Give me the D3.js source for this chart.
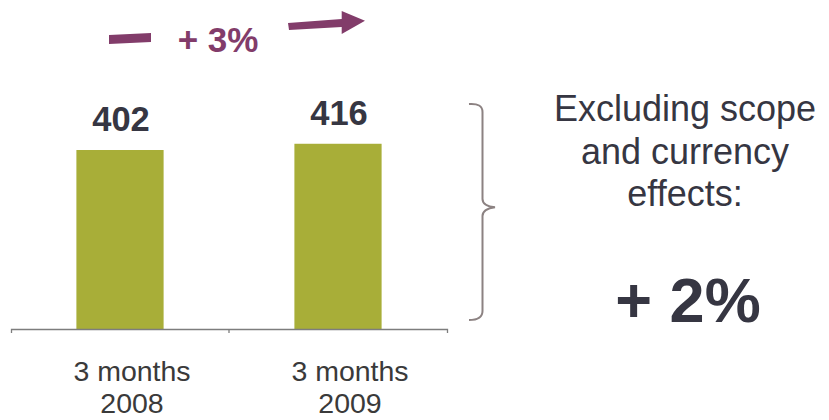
<!DOCTYPE html>
<html><head><meta charset="utf-8">
<script src="https://cdn.jsdelivr.net/npm/d3@7"></script>
<style>
html,body{margin:0;padding:0;background:#fff;}
svg{display:block;font-family:"Liberation Sans",Arial,sans-serif;}
</style></head>
<body><svg id="c" width="829" height="420"></svg>
<script>
const categories = [["3 months", "2008"], ["3 months", "2009"]];
const values = [402, 416];
const valueLabels = ["402", "416"];
const growthLabel = "+ 3%";
const sideTextLines = ["Excluding scope", "and currency", "effects:"];
const sideValue = "+ 2%";

const svg = d3.select("#c");
const base = 329;
const x = d3.scaleBand().domain(d3.range(categories.length)).range([11, 447])
  .paddingInner(0.6).paddingOuter(0.3);
const y = d3.scaleLinear().domain([0, 450]).range([base, base - 450 * (179 / 402)]);

const dark = "#363642", purple = "#823c6a", green = "#a8ae38";

// bars
svg.selectAll("rect.bar").data(values).join("rect").attr("class", "bar")
  .attr("x", (d, i) => x(i)).attr("width", x.bandwidth())
  .attr("y", d => y(d)).attr("height", d => y(0) - y(d)).attr("fill", green);

// value labels
svg.selectAll("text.val").data(values).join("text").attr("class", "val")
  .attr("x", (d, i) => x(i) + x.bandwidth() / 2 + 1).attr("y", d => y(d) - 19)
  .attr("text-anchor", "middle").attr("font-size", 34.5).attr("font-weight", "bold")
  .attr("fill", dark).text((d, i) => valueLabels[i]);

// axis
const axis = d3.axisBottom(x).tickSizeInner(0).tickSizeOuter(4).tickFormat("");
const gAx = svg.append("g").attr("transform", `translate(0,${base})`).call(axis);
gAx.select(".domain").attr("stroke", "#7d7d7d").attr("stroke-width", 1.3);
gAx.selectAll(".tick").remove();
const step = x.step();
svg.append("line").attr("x1", 11 + step).attr("x2", 11 + step)
  .attr("y1", base).attr("y2", base + 4).attr("stroke", "#7d7d7d").attr("stroke-width", 1.3);

// category labels
const cat = svg.selectAll("text.cat").data(categories).join("text").attr("class", "cat")
  .attr("text-anchor", "middle").attr("font-size", 28.5).attr("fill", "#3a3a3a");
cat.each(function (lines, i) {
  const cx = x(i) + x.bandwidth() / 2 + 12;
  d3.select(this).selectAll("tspan").data(lines).join("tspan")
    .attr("x", cx).attr("y", (l, j) => 381 + j * 32).text(l => l);
});

// growth decorations
svg.append("path").attr("d", "M109,35 L151,33 L151,42 L109,44 Z").attr("fill", purple);
svg.append("path")
  .attr("d", "M288,23 L341.7,19 L341.7,11 L365,20.7 L341.7,34 L341.7,27 L289,30 Z")
  .attr("fill", purple);
svg.append("text").attr("x", 218).attr("y", 52).attr("text-anchor", "middle")
  .attr("font-size", 35).attr("font-weight", "bold").attr("fill", purple).text(growthLabel);

// bracket
svg.append("path")
  .attr("d", "M469,104 Q482.5,103 482.5,112 L482.5,199 Q482.5,206 495,207.3 Q482.5,209 482.5,216 L482.5,311 Q482.5,320 469,320")
  .attr("fill", "none").attr("stroke", "#8c8282").attr("stroke-width", 2);

// side text
svg.selectAll("text.side").data(sideTextLines).join("text").attr("class", "side")
  .attr("x", 685).attr("y", (d, i) => 121 + i * 42.5).attr("text-anchor", "middle")
  .attr("font-size", 36).attr("fill", dark).text(d => d);
svg.append("text").attr("x", 688).attr("y", 322).attr("text-anchor", "middle")
  .attr("font-size", 63).attr("font-weight", "bold").attr("fill", dark).text(sideValue);
</script></body></html>
